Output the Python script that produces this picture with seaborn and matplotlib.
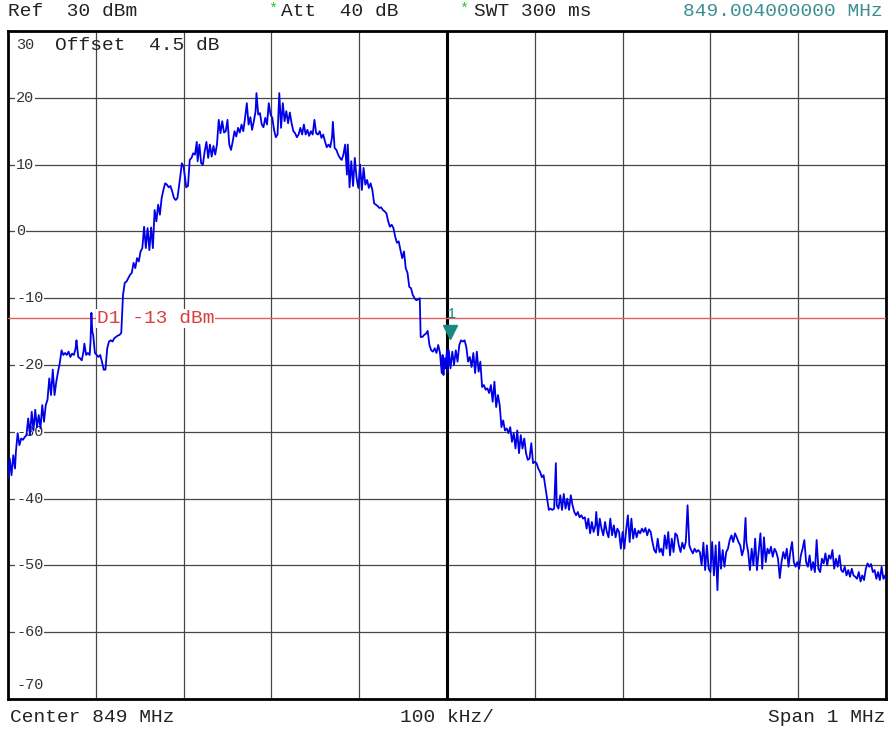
import pandas as pd
import matplotlib
matplotlib.use('Agg')
import matplotlib.pyplot as plt
import seaborn as sns

# trace, frequency offset from 849 MHz centre (kHz) and level (dBm)
skirt_left_khz = [-500, -498, -496, -494, -492, -491, -489, -487, -485, -483,
                  -481, -479, -477, -475, -473, -471, -469, -467, -465, -463,
                  -461, -459, -457, -455, -453, -451, -449, -447, -445, -443,
                  -441, -439, -437, -435, -433, -431, -429, -427, -425, -423,
                  -422, -420, -418, -416, -414, -413, -411, -409, -407, -406,
                  -405, -404, -403, -401, -399, -397, -395, -393, -391, -389,
                  -387, -385, -383, -381, -379, -377, -375, -373, -371, -369,
                  -367, -365, -363, -361, -359, -357, -355, -353, -351, -349,
                  -347, -345, -343, -341, -339, -337, -335, -333, -331, -329,
                  -327, -325, -323, -321, -319, -317, -315, -313, -311, -309,
                  -307, -304, -302, -300, -298, -297, -295, -293]
skirt_left_dbm = [-37.0, -34.0, -36.5, -33.5, -35.5, -33.0, -30.2, -32.0, -31.0, -31.2,
                  -30.8, -30.5, -28.0, -30.5, -27.0, -29.8, -26.7, -29.3, -27.5, -29.5,
                  -26.0, -28.5, -26.0, -25.2, -22.0, -24.5, -20.7, -24.5, -22.5, -21.0,
                  -19.7, -17.8, -18.5, -18.2, -18.5, -18.0, -18.8, -18.3, -18.5, -17.5,
                  -16.3, -18.8, -19.0, -19.3, -18.0, -16.8, -18.5, -18.2, -18.5, -16.5,
                  -12.2, -15.0, -15.5, -18.2, -18.5, -18.8, -18.5, -19.5, -20.7, -20.7,
                  -17.5, -16.5, -16.3, -16.5, -16.0, -15.8, -15.6, -15.5, -15.2, -9.5,
                  -7.7, -7.5, -7.0, -6.5, -6.2, -4.7, -5.5, -4.0, -4.5, -3.0,
                  -2.5, 0.7, -2.5, 0.5, -2.8, 0.6, -2.5, 3.2, 1.5, 4.0,
                  2.5, 5.0, 6.2, 7.2, 7.0, 6.6, 6.8, 6.0, 5.0, 4.7,
                  5.0, 8.0, 10.2, 9.7, 7.7, 6.6, 6.8, 10.7]

lobe_khz = [-291, -289, -287, -285, -284, -282, -280, -278, -276, -274,
            -272, -270, -268, -266, -264, -262, -260, -258, -256, -254,
            -252, -250, -248, -246, -244, -242, -240, -238, -236, -234,
            -232, -230, -228, -226, -224, -222, -220, -218, -217, -215,
            -213, -211, -209, -207, -205, -203, -201, -199, -197, -195,
            -193, -191, -189, -187, -185, -183, -181, -179, -177, -175,
            -173, -171, -169, -167, -165, -163, -161, -159, -157, -155,
            -153, -151, -149, -147, -145, -143, -141, -139, -137, -135,
            -133, -131, -130, -128, -126, -124, -122, -120, -118, -116,
            -114, -113, -111, -109, -107, -105, -103, -101, -99, -97,
            -95, -93]
lobe_dbm = [11.0, 11.7, 11.5, 13.4, 10.5, 13.0, 10.2, 10.0, 12.0, 13.4,
            11.0, 13.0, 11.2, 12.8, 11.5, 13.0, 16.7, 14.7, 16.5, 14.8,
            15.0, 16.7, 13.0, 12.2, 13.5, 15.0, 14.2, 15.5, 14.8, 16.0,
            15.0, 17.0, 19.2, 16.0, 17.1, 15.2, 16.5, 18.0, 20.7, 17.5,
            17.7, 16.0, 15.6, 17.0, 16.0, 19.2, 17.5, 17.0, 15.2, 14.1,
            14.5, 20.7, 15.5, 19.2, 16.5, 18.0, 16.2, 17.8, 16.2, 15.0,
            14.7, 14.1, 14.5, 15.5, 14.5, 16.0, 14.5, 15.2, 14.3, 15.0,
            14.5, 16.7, 14.7, 14.5, 15.0, 14.0, 14.5, 13.5, 12.6, 13.0,
            12.6, 14.0, 16.4, 12.5, 12.2, 11.5, 11.0, 10.7, 11.5, 13.0,
            8.5, 13.0, 6.6, 10.5, 6.8, 11.0, 8.0, 6.5, 10.0, 6.2,
            9.5, 7.0]

skirt_right_khz = [-91, -89, -87, -85, -83, -81, -79, -77, -75, -73,
                   -71, -69, -67, -65, -63, -61, -59, -57, -55, -53,
                   -51, -49, -47, -45, -43, -41, -39, -37, -35, -33,
                   -31, -30, -28, -26, -24, -22, -20, -18, -16, -14,
                   -12, -10, -8, -6, -5, -4, -3, -2, 0, 1,
                   2, 4, 6, 8, 10, 12, 14, 16, 18, 20,
                   22, 24, 26, 28, 30, 32, 34, 36, 38, 40,
                   42, 44, 46, 48, 50, 52, 54, 56, 58, 60,
                   62, 64, 66, 68, 70, 72, 74, 76, 78, 80,
                   82, 84, 86, 88, 90, 92, 94, 96, 98, 100,
                   102, 104, 106, 108, 110, 112, 114, 116, 118, 120,
                   122, 124, 125, 127, 129, 131, 133, 135, 137, 139,
                   141, 143, 145, 147, 149, 151, 153, 155, 157, 159,
                   161, 163, 165, 167, 169, 170, 172, 174, 176, 178,
                   180, 182, 184, 186, 188, 190, 192, 194, 196, 198,
                   200]
skirt_right_dbm = [7.7, 6.5, 7.2, 6.2, 4.2, 4.0, 3.8, 3.5, 3.6, 3.2,
                   3.0, 2.7, 1.5, 0.7, 1.0, 0.5, -0.8, -1.7, -1.5, -2.8,
                   -4.0, -3.0, -5.5, -6.2, -8.3, -8.5, -9.5, -10.0, -10.3, -10.2,
                   -10.0, -15.8, -15.8, -15.5, -15.3, -14.9, -17.0, -17.8, -18.0, -17.5,
                   -18.2, -17.0, -18.2, -21.2, -18.5, -21.5, -19.0, -20.5, -17.8, -21.0,
                   -17.8, -20.5, -18.0, -20.0, -17.8, -19.5, -17.0, -16.3, -16.5, -16.3,
                   -17.3, -19.5, -18.8, -20.3, -18.2, -21.2, -18.0, -21.0, -19.5, -23.3,
                   -23.0, -23.7, -23.5, -24.2, -23.0, -25.5, -22.5, -26.3, -24.5, -26.0,
                   -29.3, -28.3, -29.8, -29.5, -30.2, -29.3, -31.5, -30.2, -32.5, -29.8,
                   -33.2, -30.5, -32.5, -31.0, -33.2, -34.2, -34.0, -31.7, -34.7, -34.5,
                   -34.7, -35.5, -36.0, -36.8, -36.5, -38.3, -40.0, -41.7, -41.5, -41.7,
                   -41.5, -34.7, -41.0, -41.5, -39.5, -41.7, -39.3, -41.5, -40.0, -41.7,
                   -39.5, -41.0, -42.0, -42.5, -42.0, -42.8, -42.5, -43.0, -42.8, -44.5,
                   -43.0, -45.2, -43.5, -45.0, -44.0, -42.0, -45.5, -43.0, -44.5, -45.5,
                   -43.5, -45.0, -45.8, -43.0, -45.5, -44.0, -45.8, -44.5, -45.0, -47.5,
                   -45.0]

floor_khz = [202, 204, 206, 208, 210, 212, 214, 216, 218, 220,
             222, 224, 226, 228, 230, 232, 234, 236, 238, 240,
             242, 244, 246, 248, 250, 252, 254, 256, 258, 260,
             262, 264, 266, 268, 270, 272, 274, 276, 278, 280,
             282, 284, 286, 288, 290, 292, 294, 296, 298, 300,
             302, 304, 306, 308, 310, 312, 314, 316, 318, 320,
             322, 324, 326, 328, 330, 332, 334, 336, 338, 340,
             341, 343, 345, 347, 349, 351, 353, 355, 357, 359,
             361, 363, 365, 367, 369, 371, 373, 375, 377, 379,
             381, 383, 385, 387, 389, 391, 393, 395, 397, 399,
             401, 403, 405, 407, 409, 411, 413, 415, 417, 419,
             421, 423, 425, 427, 429, 431, 433, 435, 437, 439,
             441, 443, 445, 447, 449, 451, 453, 455, 457, 459,
             461, 463, 465, 467, 469, 471, 473, 475, 477, 479,
             481, 483, 485, 487, 489, 491, 493, 495, 497, 499,
             500]
floor_dbm = [-47.5, -44.7, -42.5, -46.5, -43.0, -46.0, -44.5, -45.8, -44.8, -45.2,
             -44.5, -45.0, -44.4, -45.5, -44.6, -45.0, -46.5, -47.7, -48.1, -46.0,
             -48.0, -47.5, -48.5, -45.5, -47.5, -45.0, -48.5, -46.0, -48.0, -45.2,
             -45.5, -47.0, -48.0, -46.6, -47.5, -46.5, -41.0, -47.0, -47.7, -48.2,
             -47.5, -48.0, -47.7, -48.0, -50.0, -46.6, -50.7, -47.0, -50.5, -51.0,
             -46.5, -51.5, -47.0, -53.7, -46.5, -50.5, -47.7, -50.2, -48.0, -47.5,
             -46.2, -45.5, -46.5, -45.2, -45.8, -46.5, -47.0, -48.5, -47.5, -42.9,
             -46.5, -48.0, -50.7, -47.5, -50.0, -46.0, -50.7, -48.0, -45.2, -50.5,
             -45.8, -49.5, -47.5, -48.2, -47.2, -48.7, -47.5, -48.0, -49.0, -51.9,
             -49.5, -48.0, -49.0, -47.5, -50.2, -48.0, -46.5, -49.5, -50.2, -49.5,
             -50.5, -48.5, -47.5, -46.2, -49.5, -50.2, -48.5, -50.7, -49.5, -51.0,
             -46.2, -50.5, -51.0, -49.0, -49.7, -48.2, -50.0, -48.5, -49.0, -47.7,
             -50.5, -49.0, -50.2, -48.5, -50.7, -51.0, -50.2, -51.5, -50.7, -51.7,
             -50.5, -51.5, -51.7, -52.0, -51.0, -52.4, -51.5, -52.2, -50.5, -49.7,
             -50.2, -49.8, -51.0, -50.7, -52.0, -51.0, -52.2, -50.2, -52.0, -51.5,
             -52.2]

grid_khz = [-400, -300, -200, -100, 0, 100, 200, 300, 400]
level_ticks = [30, 20, 10, 0, -10, -20, -30, -40, -50, -60, -70]
display_line_dbm = -13
marker_khz = 3
marker_dbm = -15.0

trace = pd.DataFrame({
    'Offset (kHz)': skirt_left_khz + lobe_khz + skirt_right_khz + floor_khz,
    'Level (dBm)': skirt_left_dbm + lobe_dbm + skirt_right_dbm + floor_dbm,
})

sns.set_style('white')
plt.rcParams['font.family'] = ['Liberation Mono', 'DejaVu Sans Mono']

fig = plt.figure(figsize=(8.88, 7.31), dpi=100)
ax = fig.add_axes([8 / 888, 1 - 699 / 731, 878 / 888, 668 / 731])

sns.lineplot(data=trace, x='Offset (kHz)', y='Level (dBm)', color='#0000e8',
             lw=1.3, estimator=None, ax=ax, zorder=5)

ax.set_xlim(-500, 500)
ax.set_ylim(-70, 30)
ax.set_xticks(grid_khz)
ax.set_yticks(level_ticks)
ax.grid(True, color='#474747', lw=0.9)
ax.tick_params(length=0, labelleft=False, labelbottom=False)
ax.set_xlabel('')
ax.set_ylabel('')
for sp in ax.spines.values():
    sp.set_linewidth(2.0)
    sp.set_color('black')

# centre frequency line and display line
ax.axvline(0, color='black', lw=2.2, zorder=3)
ax.axhline(display_line_dbm, color='#e06060', lw=1.0, zorder=3)
ax.text(-399, display_line_dbm, 'D1 -13 dBm', color='#d84040', fontsize=14,
        ha='left', va='center', zorder=4,
        bbox=dict(fc='white', ec='none', pad=0.5))

# level labels inside the grid
ytrans = ax.get_yaxis_transform()
for val in level_ticks:
    ypos = val
    if val == 30:
        ypos = 27.9
    elif val == -70:
        ypos = -67.9
    ax.text(0.0092, ypos, str(val), transform=ytrans, fontsize=11,
            color='#333333', ha='left', va='center', zorder=4,
            bbox=dict(fc='white', ec='none', pad=0.6))
ax.text(-447, 27.9, 'Offset  4.5 dB', fontsize=14, color='#222222',
        ha='left', va='center', zorder=4)

# marker 1
ax.plot(marker_khz, marker_dbm, marker='v', color='#178a80', ms=10, zorder=6)
ax.text(marker_khz + 2, -12.4, '1', color='#178a80', fontsize=11,
        ha='center', va='center', zorder=6)

# header and footer
top_y = 1 - 12 / 731
fig.text(8 / 888, top_y, 'Ref  30 dBm', fontsize=14, color='#222222', va='center')
fig.text(268 / 888, 1 - 9 / 731, '*', fontsize=11, color='#22cc22', va='center')
fig.text(281 / 888, top_y, 'Att  40 dB', fontsize=14, color='#222222', va='center')
fig.text(459 / 888, 1 - 9 / 731, '*', fontsize=11, color='#22cc22', va='center')
fig.text(474 / 888, top_y, 'SWT 300 ms', fontsize=14, color='#222222', va='center')
fig.text(883 / 888, top_y, '849.004000000 MHz', fontsize=14, color='#3a9090',
         ha='right', va='center')

bot_y = 1 - 717 / 731
fig.text(10 / 888, bot_y, 'Center 849 MHz', fontsize=14, color='#222222', va='center')
fig.text(400 / 888, bot_y, '100 kHz/', fontsize=14, color='#222222', va='center')
fig.text(885 / 888, bot_y, 'Span 1 MHz', fontsize=14, color='#222222',
         ha='right', va='center')

fig.savefig('out.png', dpi=100)
